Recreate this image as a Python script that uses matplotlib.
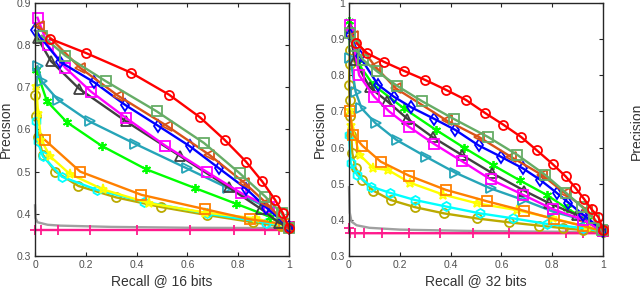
import numpy as np
import matplotlib.pyplot as plt

plt.rcParams['font.family'] = ['Liberation Sans', 'DejaVu Sans']

# ---------------- 16 bits ----------------
red16_x = [0.06, 0.202, 0.377, 0.529, 0.649, 0.747, 0.830, 0.894, 0.945, 0.976, 1.0]
red16_y = [0.815, 0.781, 0.735, 0.682, 0.629, 0.575, 0.524, 0.477, 0.433, 0.401, 0.366]
sage16_x = [0.027, 0.120, 0.280, 0.479, 0.665, 0.806, 0.906, 0.971, 1.0]
sage16_y = [0.822, 0.775, 0.714, 0.643, 0.568, 0.496, 0.441, 0.401, 0.366]
brown16_x = [0.014, 0.178, 0.327, 0.518, 0.686, 0.823, 0.911, 1.0]
brown16_y = [0.845, 0.746, 0.680, 0.609, 0.540, 0.474, 0.425, 0.368]
blue16_x = [0.0, 0.10, 0.233, 0.353, 0.484, 0.61, 0.724, 0.83, 0.91, 1.0]
blue16_y = [0.835, 0.76, 0.712, 0.659, 0.609, 0.560, 0.508, 0.46, 0.415, 0.368]
mag16_x = [0.01, 0.05, 0.12, 0.22, 0.359, 0.512, 0.675, 0.809, 0.92, 1.0]
mag16_y = [0.865, 0.80, 0.746, 0.690, 0.627, 0.562, 0.500, 0.450, 0.417, 0.368]
dgrey16_x = [0.01, 0.063, 0.175, 0.359, 0.571, 0.762, 0.891, 0.96, 1.0]
dgrey16_y = [0.817, 0.762, 0.696, 0.619, 0.537, 0.463, 0.411, 0.379, 0.368]
teal16_x = [0.01, 0.027, 0.089, 0.215, 0.394, 0.597, 0.76, 0.92, 1.0]
teal16_y = [0.75, 0.714, 0.671, 0.619, 0.566, 0.508, 0.461, 0.413, 0.368]
green16_x = [0.005, 0.047, 0.126, 0.263, 0.436, 0.63, 0.791, 0.924, 1.0]
green16_y = [0.742, 0.667, 0.617, 0.561, 0.506, 0.461, 0.424, 0.393, 0.368]
orange16_x = [0.041, 0.178, 0.419, 0.669, 0.846, 0.98, 1.0]
orange16_y = [0.574, 0.500, 0.445, 0.411, 0.387, 0.376, 0.368]
yellow16_x = [0.005, 0.012, 0.024, 0.06, 0.136, 0.267, 0.45, 0.67, 0.87, 1.0]
yellow16_y = [0.702, 0.64, 0.575, 0.536, 0.495, 0.458, 0.425, 0.403, 0.389, 0.368]
cyan16_x = [0.005, 0.01, 0.031, 0.106, 0.243, 0.427, 0.675, 0.91, 1.0]
cyan16_y = [0.619, 0.572, 0.536, 0.488, 0.457, 0.429, 0.401, 0.379, 0.368]
olive16_x = [0.0, 0.004, 0.012, 0.031, 0.08, 0.171, 0.319, 0.497, 0.678, 0.859, 0.967, 1.0]
olive16_y = [0.682, 0.631, 0.583, 0.540, 0.500, 0.466, 0.439, 0.416, 0.397, 0.380, 0.370, 0.366]
grey16_x = [0.0, 0.002, 0.01, 0.05, 0.1, 0.3, 0.6, 1.0]
grey16_y = [0.42, 0.39, 0.38, 0.374, 0.372, 0.369, 0.367, 0.366]
pink16_x = [0.0, 0.022, 0.092, 0.217, 0.40, 0.61, 0.785, 0.906, 0.96, 1.0]
pink16_y = [0.362] * 10

# ---------------- 32 bits ----------------
red32_x = [0.029, 0.072, 0.138, 0.217, 0.300, 0.381, 0.460, 0.537, 0.608, 0.678,
           0.740, 0.802, 0.853, 0.891, 0.926, 0.955, 0.982, 1.0]
red32_y = [0.889, 0.861, 0.837, 0.812, 0.787, 0.760, 0.732, 0.695, 0.663, 0.629,
           0.592, 0.554, 0.520, 0.489, 0.457, 0.429, 0.407, 0.372]
sage32_x = [0.003, 0.02, 0.055, 0.11, 0.189, 0.288, 0.413, 0.548, 0.662, 0.773, 0.854, 0.918, 0.965, 0.995]
sage32_y = [0.917, 0.88, 0.843, 0.811, 0.771, 0.728, 0.679, 0.629, 0.580, 0.524, 0.475, 0.435, 0.404, 0.372]
brown32_x = [0.016, 0.101, 0.184, 0.384, 0.512, 0.636, 0.760, 0.850, 0.936, 1.0]
brown32_y = [0.908, 0.826, 0.764, 0.675, 0.629, 0.575, 0.524, 0.474, 0.427, 0.370]
blue32_x = [0.005, 0.042, 0.114, 0.176, 0.246, 0.334, 0.418, 0.51, 0.597, 0.683, 0.752, 0.817, 0.863, 0.922, 1.0]
blue32_y = [0.912, 0.852, 0.774, 0.741, 0.711, 0.680, 0.649, 0.606, 0.575, 0.543, 0.511, 0.475, 0.448, 0.414, 0.370]
green32_x = [0.0, 0.035, 0.095, 0.215, 0.342, 0.452, 0.565, 0.673, 0.778, 0.857, 0.936, 1.0]
green32_y = [0.949, 0.834, 0.774, 0.709, 0.649, 0.600, 0.552, 0.509, 0.469, 0.432, 0.400, 0.370]
mag32_x = [0.005, 0.04, 0.099, 0.158, 0.235, 0.335, 0.443, 0.557, 0.686, 0.804, 0.922, 1.0]
mag32_y = [0.94, 0.80, 0.741, 0.700, 0.658, 0.610, 0.563, 0.512, 0.469, 0.429, 0.400, 0.368]
dgrey32_x = [0.003, 0.022, 0.081, 0.151, 0.229, 0.329, 0.443, 0.564, 0.689, 0.788, 0.896, 1.0]
dgrey32_y = [0.931, 0.843, 0.767, 0.728, 0.680, 0.629, 0.580, 0.529, 0.481, 0.446, 0.414, 0.368]
teal32_x = [0.005, 0.026, 0.049, 0.105, 0.187, 0.302, 0.417, 0.557, 0.686, 0.802, 0.922, 1.0]
teal32_y = [0.848, 0.755, 0.709, 0.667, 0.621, 0.575, 0.531, 0.487, 0.455, 0.423, 0.400, 0.368]
orange32_x = [0.003, 0.016, 0.053, 0.125, 0.237, 0.381, 0.545, 0.689, 0.808, 0.922, 1.0]
orange32_y = [0.700, 0.635, 0.605, 0.561, 0.522, 0.483, 0.451, 0.425, 0.402, 0.383, 0.368]
yellow32_x = [0.003, 0.009, 0.042, 0.095, 0.154, 0.239, 0.37, 0.502, 0.66, 0.804, 0.936, 1.0]
yellow32_y = [0.704, 0.663, 0.580, 0.543, 0.538, 0.503, 0.47, 0.446, 0.427, 0.404, 0.381, 0.368]
cyan32_x = [0.0, 0.007, 0.032, 0.088, 0.16, 0.259, 0.381, 0.515, 0.647, 0.778, 0.922, 1.0]
cyan32_y = [0.635, 0.557, 0.524, 0.492, 0.475, 0.455, 0.437, 0.418, 0.404, 0.389, 0.377, 0.368]
olive32_x = [0.003, 0.002, 0.0, 0.003, 0.005, 0.009, 0.013, 0.026, 0.053, 0.095, 0.164,
             0.26, 0.373, 0.502, 0.631, 0.749, 0.844, 0.922, 1.0]
olive32_y = [0.871, 0.83, 0.774, 0.732, 0.686, 0.635, 0.584, 0.543, 0.511, 0.481, 0.455,
             0.435, 0.418, 0.404, 0.393, 0.384, 0.377, 0.372, 0.366]
grey32_x = [0.0, 0.003, 0.01, 0.03, 0.08, 0.2, 0.5, 1.0]
grey32_y = [0.49, 0.42, 0.395, 0.385, 0.378, 0.373, 0.369, 0.366]
pink32_x = [0.0, 0.002, 0.025, 0.06, 0.13, 0.235, 0.36, 0.49, 0.63, 0.856, 0.92, 1.0]
pink32_y = [0.378, 0.363, 0.363, 0.363, 0.363, 0.363, 0.363, 0.363, 0.363, 0.363, 0.363, 0.363]

xticks = [0, 0.2, 0.4, 0.6, 0.8, 1]
xtick_labels = ['0', '0.2', '0.4', '0.6', '0.8', '1']

# colour, marker for each method (drawing order: bottom -> top)
styles = [
    ('grey', '#a0a0a0', 'None'),
    ('pink', '#ff1a8c', '+'),
    ('olive', '#bbaa00', 'o'),
    ('cyan', '#00ffff', 'h'),
    ('yellow', '#ffff00', '*'),
    ('orange', '#ff8000', 's'),
    ('green', '#00ff00', (6, 2, 0)),
    ('teal', '#26a5b8', '>'),
    ('dgrey', '#404040', '^'),
    ('mag', '#ff00ff', 's'),
    ('blue', '#0000ff', 'd'),
    ('brown', '#d95319', '<'),
    ('sage', '#66ad66', 's'),
    ('red', '#ff0000', 'o'),
]

fig = plt.figure(figsize=(6.4, 2.91), dpi=100)
ax1 = fig.add_axes([0.0547, 0.1203, 0.397, 0.8694])
ax2 = fig.add_axes([0.5453, 0.1203, 0.397, 0.8694])

for ax, bits, ymax in [(ax1, 16, 0.9), (ax2, 32, 1.0)]:
    g = globals()
    for name, col, mk in styles:
        xs = g[f'{name}{bits}_x']
        ys = g[f'{name}{bits}_y']
        ax.plot(xs, ys, color=col, marker=mk, markersize=6.5, markerfacecolor='none',
                markeredgewidth=1.3, linewidth=1.7, clip_on=False)
    ax.set_xlim(0, 1)
    ax.set_ylim(0.3, ymax)
    ax.set_xticks(xticks)
    ax.set_xticklabels(xtick_labels)
    yt = np.round(np.arange(0.3, ymax + 0.001, 0.1), 1)
    ax.set_yticks(yt)
    ax.set_yticklabels(['1' if v == 1 else f'{v:.1f}' for v in yt])
    ax.tick_params(direction='in', length=3, width=0.8, top=True, right=True,
                   labelsize=7.5, labelcolor='#505050', color='#262626', pad=3)
    for s in ax.spines.values():
        s.set_color('#262626')
        s.set_linewidth(1.0)
    ax.set_xlabel(f'Recall @ {bits} bits', fontsize=10, color='#333333', labelpad=3)
    ax.set_ylabel('Precision', fontsize=10, color='#333333')
    ax.yaxis.set_label_coords(-0.088, 0.5)

fig.text(0.984, 0.55, 'Precision', rotation=90, fontsize=10, color='#333333',
         ha='left', va='center')

fig.savefig('out.png', dpi=100)
